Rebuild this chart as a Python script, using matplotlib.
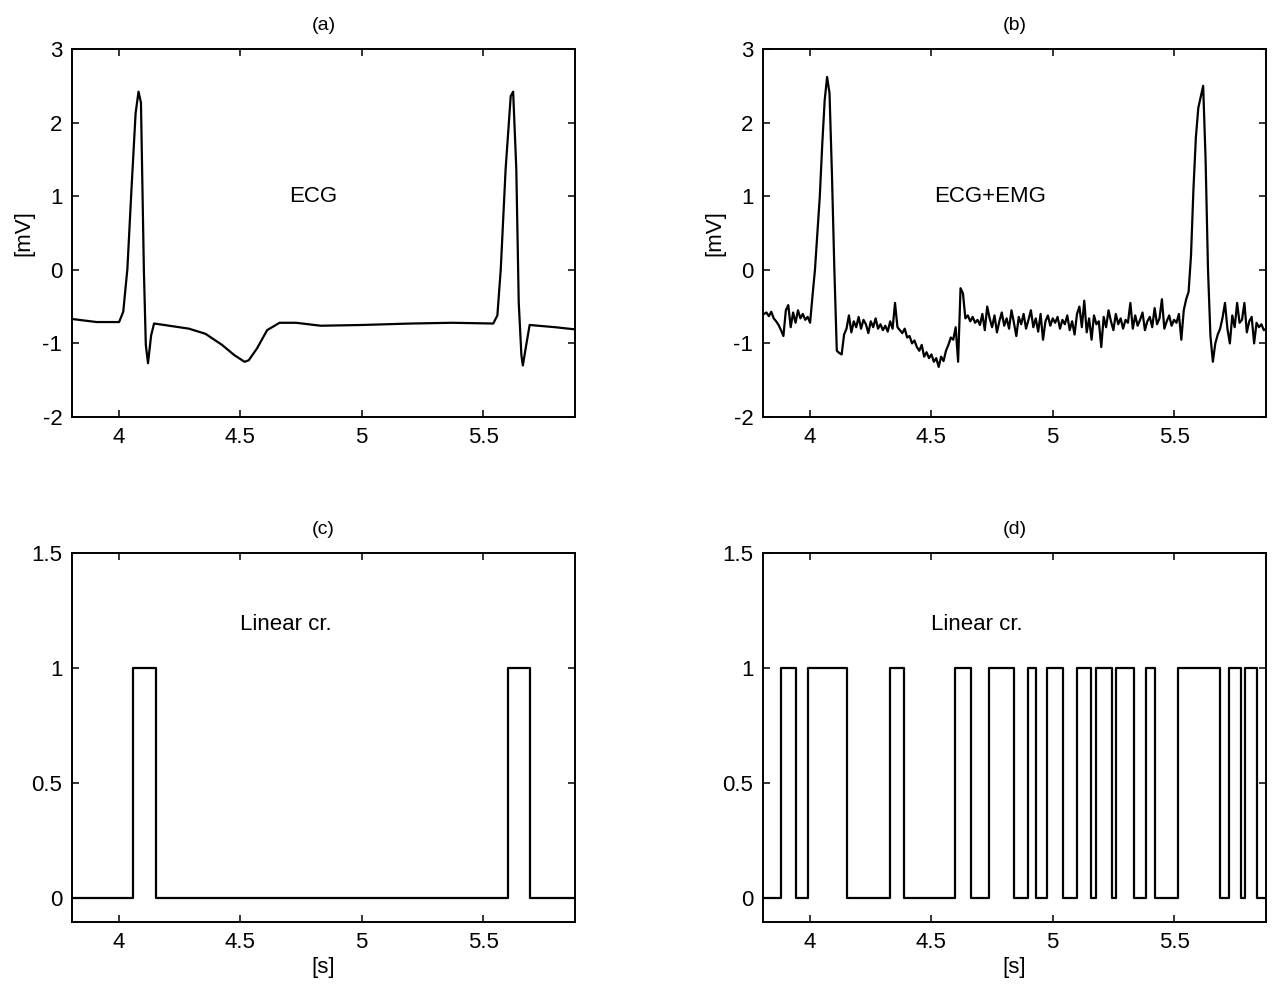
import matplotlib
matplotlib.use('Agg')
import matplotlib.pyplot as plt
import numpy as np
from matplotlib.ticker import FormatStrFormatter

plt.rcParams['font.family'] = ['Liberation Sans', 'DejaVu Sans']

# (a) clean ECG, breakpoints [s], [mV]
ecg_t = [3.81, 3.907, 4.0, 4.017, 4.034, 4.051, 4.068, 4.080, 4.090, 4.102,
         4.110, 4.119, 4.132, 4.144, 4.186, 4.288, 4.356, 4.424, 4.475, 4.517,
         4.534, 4.568, 4.610, 4.661, 4.729, 4.831, 5.0, 5.203, 5.373, 5.542,
         5.559, 5.573, 5.593, 5.614, 5.624, 5.637, 5.647, 5.658, 5.664, 5.678,
         5.692, 5.797, 5.88]
ecg_v = [-0.67, -0.71, -0.71, -0.57, 0.01, 1.10, 2.13, 2.42, 2.27, 0.0,
         -1.02, -1.27, -0.89, -0.73, -0.75, -0.80, -0.87, -1.02, -1.16, -1.25,
         -1.23, -1.07, -0.82, -0.72, -0.72, -0.76, -0.75, -0.73, -0.72, -0.73,
         -0.62, 0.01, 1.37, 2.36, 2.42, 1.37, -0.44, -1.16, -1.30, -1.02,
         -0.75, -0.78, -0.81]

# (b) ECG + EMG, sampled every 10 ms from 3.81 s
noisy_t0 = 3.81
noisy_dt = 0.01
noisy_v = [
    -0.60, -0.58, -0.63, -0.57, -0.66, -0.70, -0.75, -0.82, -0.90, -0.55,
    -0.48, -0.78, -0.58, -0.72, -0.55, -0.66, -0.60, -0.68, -0.64, -0.72,
    -0.35, 0.00, 0.50, 1.00, 1.70, 2.30, 2.62, 2.40, 1.30, 0.00,
    -1.10, -1.13, -1.15, -0.88, -0.80, -0.62, -0.85, -0.70, -0.78, -0.64,
    -0.80, -0.68, -0.74, -0.86, -0.70, -0.78, -0.66, -0.80, -0.74, -0.82,
    -0.76, -0.84, -0.70, -0.80, -0.45, -0.78, -0.82, -0.86, -0.80, -0.92,
    -0.90, -1.00, -0.96, -1.05, -1.10, -1.02, -1.18, -1.12, -1.20, -1.15,
    -1.25, -1.20, -1.32, -1.18, -1.24, -1.10, -1.02, -0.92, -0.95, -0.78,
    -1.25, -0.25, -0.32, -0.66, -0.62, -0.70, -0.64, -0.72, -0.68, -0.75,
    -0.60, -0.82, -0.50, -0.66, -0.78, -0.62, -0.85, -0.70, -0.58, -0.76,
    -0.66, -0.80, -0.55, -0.72, -0.90, -0.64, -0.74, -0.60, -0.80, -0.68,
    -0.55, -0.78, -0.66, -0.84, -0.60, -0.95, -0.70, -0.62, -0.76, -0.66,
    -0.72, -0.64, -0.80, -0.68, -0.74, -0.62, -0.82, -0.70, -0.88, -0.60,
    -0.50, -0.78, -0.42, -0.85, -0.66, -0.95, -0.62, -0.74, -0.70, -1.05,
    -0.64, -0.78, -0.55, -0.70, -0.82, -0.60, -0.74, -0.66, -0.80, -0.68,
    -0.72, -0.45, -0.80, -0.62, -0.76, -0.68, -0.58, -0.82, -0.70, -0.64,
    -0.78, -0.52, -0.74, -0.66, -0.40, -0.80, -0.70, -0.62, -0.76, -0.68,
    -0.72, -0.60, -0.95, -0.55, -0.40, -0.30, 0.20, 1.10, 1.80, 2.20,
    2.35, 2.50, 1.50, 0.00, -0.90, -1.25, -1.00, -0.88, -0.80, -0.65,
    -0.45, -0.80, -1.00, -0.62, -0.78, -0.45, -0.72, -0.68, -0.45, -0.85,
    -0.70, -0.64, -1.00, -0.72, -0.78, -0.74, -0.82, -0.80,
]
noisy_t = noisy_t0 + noisy_dt * np.arange(len(noisy_v))

# (c) and (d) linear-criterion detector output: switch times and levels
det_clean_t = [3.81, 4.059, 4.154, 5.603, 5.695, 5.88]
det_clean_v = [0, 1, 0, 1, 0, 0]
det_noisy_t = [3.81, 3.879, 3.940, 3.993, 4.154, 4.328, 4.387, 4.598, 4.662,
               4.739, 4.841, 4.900, 4.930, 4.978, 5.044, 5.102, 5.159, 5.178,
               5.245, 5.261, 5.337, 5.385, 5.422, 5.516, 5.688, 5.725, 5.777,
               5.792, 5.843, 5.88]
det_noisy_v = [0, 1, 0, 1, 0, 1, 0, 1, 0, 1, 0, 1, 0, 1, 0, 1, 0, 1, 0, 1,
               0, 1, 0, 1, 0, 1, 0, 1, 0, 0]

x_lim = (3.806, 5.879)
x_ticks = [4, 4.5, 5, 5.5]
fs = 16

fig = plt.figure(figsize=(12.73, 9.9), dpi=100)
ax_a = fig.add_axes([0.0566, 0.5788, 0.3951, 0.3717])
ax_b = fig.add_axes([0.5994, 0.5788, 0.3951, 0.3717])
ax_c = fig.add_axes([0.0566, 0.0687, 0.3951, 0.3727])
ax_d = fig.add_axes([0.5994, 0.0687, 0.3951, 0.3727])


def style(ax, title):
    ax.set_xlim(*x_lim)
    ax.set_xticks(x_ticks)
    ax.xaxis.set_major_formatter(FormatStrFormatter('%g'))
    ax.yaxis.set_major_formatter(FormatStrFormatter('%g'))
    ax.tick_params(direction='in', length=5, width=1.1, top=True, right=True,
                   labelsize=fs, pad=7)
    for sp in ax.spines.values():
        sp.set_linewidth(1.4)
    ax.set_title(title, fontsize=14, pad=14)


ax_a.plot(ecg_t, ecg_v, color='black', lw=1.6)
ax_b.plot(noisy_t, noisy_v, color='black', lw=1.6)
for ax, title in [(ax_a, '(a)'), (ax_b, '(b)')]:
    style(ax, title)
    ax.set_ylim(-2, 3)
    ax.set_yticks([-2, -1, 0, 1, 2, 3])
    ax.set_ylabel('[mV]', fontsize=fs, labelpad=6)
ax_a.text(4.70, 1.0, 'ECG', fontsize=fs, va='center', ha='left')
ax_b.text(4.51, 1.0, 'ECG+EMG', fontsize=fs, va='center', ha='left')

ax_c.step(det_clean_t, det_clean_v, where='post', color='black', lw=1.6)
ax_d.step(det_noisy_t, det_noisy_v, where='post', color='black', lw=1.6)
for ax, title in [(ax_c, '(c)'), (ax_d, '(d)')]:
    style(ax, title)
    ax.set_ylim(-0.105, 1.5)
    ax.set_yticks([0, 0.5, 1, 1.5])
    ax.set_xlabel('[s]', fontsize=fs, labelpad=3)
    ax.text(4.50, 1.19, 'Linear cr.', fontsize=fs, va='center', ha='left')

fig.savefig('out.png', dpi=100)
